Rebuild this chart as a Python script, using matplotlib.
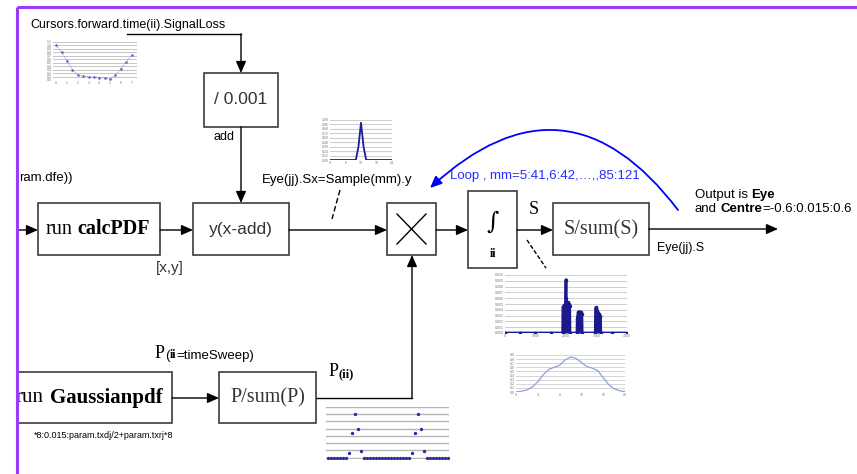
import numpy as np
import matplotlib
matplotlib.use("Agg")
import matplotlib.pyplot as plt
from matplotlib.patches import Rectangle, FancyArrowPatch

plt.rcParams['font.family'] = ['Liberation Sans', 'DejaVu Sans']

W, H = 857, 474
SANS = 'Liberation Sans'
SERIF = 'Liberation Serif'
EDGE = '#3c3c3c'

# thumbnail 1 : signal loss vs cursor position
loss_x = [0, 0.5, 1, 1.5, 2, 2.5, 3, 3.5, 4, 4.5, 5, 5.5, 6, 6.5, 7]
loss_y = [1.0, 0.8, 0.55, 0.3, 0.14, 0.12, 0.1, 0.09, 0.07, 0.05, 0.02, 0.15, 0.33, 0.52, 0.72]

# thumbnail 2 : single sample pdf
samp_x = list(range(25))
samp_y = [0, 0, 0, 0, 0, 0, 0, 0, 0, 0, 0, 0.35, 1.0, 0.35, 0, 0, 0, 0, 0, 0, 0, 0, 0, 0, 0]

# thumbnail 3 : summed pdf
pdf_x = [0, 500, 1000, 1500, 1890, 1900, 1920, 1950, 1980, 2000, 2010, 2030, 2060, 2090, 2120, 2130,
         2360, 2370, 2400, 2430, 2460, 2500, 2520, 2530,
         2960, 2970, 3000, 3030, 3060, 3090, 3110, 3130, 3140, 3500, 4000]
pdf_y = [0, 0, 0, 0, 0, 0.0045, 0.0046, 0.0048, 0.005, 0.0092, 0.006, 0.0052, 0.0053, 0.005, 0.0047, 0,
         0, 0.0025, 0.0036, 0.0037, 0.0036, 0.0036, 0.0033, 0,
         0, 0.0043, 0.0044, 0.0038, 0.0035, 0.0033, 0.003, 0.0028, 0, 0, 0]

# thumbnail 4 : normalised eye
eye_x = list(range(21))
eye_y = [0, 0.02, 0.05, 0.12, 0.25, 0.42, 0.55, 0.6, 0.65, 0.78, 0.85, 0.82, 0.72, 0.62, 0.58,
         0.52, 0.35, 0.18, 0.08, 0.03, 0.01]

# thumbnail 5 : P(ii)
p_x = list(range(41))
p_y = [0] * 41
for k, v in {7: 0.03, 8: 0.17, 9: 0.30, 10: 0.20, 11: 0.045,
             28: 0.03, 29: 0.17, 30: 0.30, 31: 0.20, 32: 0.045}.items():
    p_y[k] = v

fig = plt.figure(figsize=(W / 100, H / 100), dpi=100)
ax = fig.add_axes([0, 0, 1, 1])
ax.set_xlim(0, W)
ax.set_ylim(H, 0)
ax.axis('off')


def box(x0, y0, x1, y1):
    ax.add_patch(Rectangle((x0, y0), x1 - x0, y1 - y0, fc='white', ec=EDGE, lw=1.2, zorder=2))


def arrow(p0, p1, color='k'):
    ax.annotate('', xy=p1, xytext=p0,
                arrowprops=dict(arrowstyle='-|>,head_length=0.5,head_width=0.22', color=color,
                                lw=1, mutation_scale=14, shrinkA=0, shrinkB=0), zorder=3)


def line(xs, ys, z=1, **kw):
    ax.plot(xs, ys, color='k', lw=1, zorder=z, **kw)


def rich(x, y, parts, color='k'):
    # parts: (text, size, family, weight, gap in points before it)
    s, sz, fam, wt, _ = parts[0]
    prev = ax.text(x, y, s, fontsize=sz, family=fam, weight=wt, color=color, ha='left', va='center', zorder=4)
    for s, sz, fam, wt, gap in parts[1:]:
        prev = ax.annotate(s, xy=(1, 0), xycoords=prev, xytext=(gap, 0), textcoords='offset points',
                           fontsize=sz, family=fam, weight=wt, color=color, ha='left', va='bottom', zorder=4)


def inset(x0, y0, x1, y1):
    a = fig.add_axes([x0 / W, 1 - y1 / H, (x1 - x0) / W, (y1 - y0) / H])
    a.set_facecolor('white')
    for sp in a.spines.values():
        sp.set_visible(False)
    a.tick_params(labelsize=2.5, length=0, pad=1, colors='#777777')
    return a


# blocks
box(204, 73, 278, 127)
box(38, 203, 160, 255)
box(193, 203, 289, 255)
box(387, 203, 436, 255)
box(468, 191, 517, 268)
box(553, 203, 649, 255)
box(8, 372, 172, 423)
box(219, 372, 316, 423)

# connections
line([127, 241], [34, 34])
arrow((241, 34), (241, 73))
arrow((241, 127), (241, 203))
arrow((10, 230), (38, 230))
arrow((160, 230), (193, 230))
arrow((289, 230), (387, 230))
arrow((436, 230), (468, 230))
arrow((517, 230), (553, 230))
arrow((649, 229), (778, 229))
arrow((172, 398), (219, 398))
line([316, 412], [398, 398])
arrow((412, 398), (412, 255))

# multiply cross
line([397, 426], [214, 244], z=3)
line([397, 426], [244, 214], z=3)

# dashed pointers
line([340, 332], [190, 219], ls=(0, (4, 2)))
line([527, 546], [240, 268], ls=(0, (3, 1.5)))

# loop arc
ax.add_patch(FancyArrowPatch((678, 210), (430, 188), connectionstyle='arc3,rad=0.55',
                             arrowstyle='-|>,head_length=0.5,head_width=0.22', mutation_scale=14,
                             color='#0000ff', lw=1.3, shrinkA=0, shrinkB=0, zorder=3))

# texts
ax.text(30, 25, 'Cursors.forward.time(ii).SignalLoss', fontsize=9, family=SANS, va='center')
ax.text(241, 99, '/ 0.001', fontsize=12.5, family=SANS, ha='center', va='center', color='#333333')
ax.text(214, 137, 'add', fontsize=9, family=SANS, va='center')
ax.text(19, 178, 'ram.dfe))', fontsize=9.5, family=SANS, ha='left', va='center')
rich(46, 229, [('run', 14.5, SERIF, 'normal', 0), ('calcPDF', 14.5, SERIF, 'bold', 3.5)])
ax.text(241, 229, 'y(x-add)', fontsize=12.5, family=SANS, ha='center', va='center', color='#333333')
ax.text(156, 268, '[x,y]', fontsize=11, family=SANS, va='center', color='#333333')
ax.text(262, 180, 'Eye(jj).Sx=Sample(mm).y', fontsize=9.5, family=SANS, va='center')
ax.text(450, 176, 'Loop , mm=5:41,6:42,…,,85:121', fontsize=9.5, family=SANS, va='center', color='#2a2aff')
ax.text(493, 222, '∫', fontsize=17, family='DejaVu Serif', ha='center', va='center')
ax.text(493, 254, 'ii', fontsize=8.5, family=SERIF, weight='bold', ha='center', va='center')
ax.text(534, 210, 'S', fontsize=13, family=SERIF, ha='center', va='center')
ax.text(601, 230, 'S/sum(S)', fontsize=14.5, family=SERIF, ha='center', va='center', color='#333333')
ax.text(657, 248, 'Eye(jj).S', fontsize=9, family=SANS, va='center')
rich(695, 195, [('Output is', 9.5, SANS, 'normal', 0), ('Eye', 9.5, SANS, 'bold', 2.6)])
rich(695, 209, [('and', 9.5, SANS, 'normal', 0), ('Centre', 9.5, SANS, 'bold', 2.6),
                ('=-0.6:0.015:0.6', 9.5, SANS, 'normal', 0)])
rich(155, 353, [('P', 13, SERIF, 'normal', 0), ('(', 9.5, SANS, 'normal', 0),
                ('ii', 8.5, SERIF, 'bold', 0), ('=timeSweep)', 9.5, SANS, 'normal', 0)])
rich(329, 372, [('P', 13, SERIF, 'normal', 0), ('(ii)', 9, SERIF, 'bold', 0)])
ax.text(44, 398, 'run', fontsize=15, family=SERIF, ha='right', va='center')
ax.text(50, 398, 'Gaussianpdf', fontsize=15, family=SERIF, weight='bold', ha='left', va='center')
ax.text(268, 398, 'P/sum(P)', fontsize=14.5, family=SERIF, ha='center', va='center', color='#333333')
ax.text(173, 435, '*8:0.015:param.txdj/2+param.txrj*8', fontsize=6.5, family=SANS, ha='right', va='center')

# left cover and purple frame
ax.add_patch(Rectangle((0, 0), 17, H, fc='white', ec='none', zorder=20))
ax.plot([17, 17], [7, H], color='#9a3cf5', lw=2.2, zorder=21, solid_capstyle='butt')
ax.plot([17, W], [7, 7], color='#9a3cf5', lw=2.2, zorder=21, solid_capstyle='butt')

# thumbnail 1
a1 = inset(53, 42, 137, 80)
a1.plot(loss_x, loss_y, color='#5a5ab8', lw=0.6, ls=':', marker='o', ms=0.8)
a1.set_xlim(-0.3, 7.5)
a1.set_ylim(0, 1.1)
a1.set_yticks(np.arange(0, 1.11, 0.1))
a1.set_xticks(range(8))
a1.grid(axis='y', color='#bdbdbd', lw=0.6)
a1.set_axisbelow(True)

# thumbnail 2
a2 = inset(330, 119, 392, 160)
a2.plot(samp_x, samp_y, color='#1c1c9c', lw=1.3)
a2.set_xlim(0, 24)
a2.set_ylim(0, 1.1)
a2.set_yticks(np.arange(0, 1.11, 0.12))
a2.set_xticks([0, 6, 12, 18, 24])
a2.grid(axis='y', color='#cfcfcf', lw=0.8)
a2.set_axisbelow(True)

# thumbnail 3
a3 = inset(505, 275, 627, 333)
a3.fill_between(pdf_x, pdf_y, color='#1a1a8c', lw=0)
a3.plot(pdf_x, pdf_y, color='#1a1a8c', lw=2, marker='o', ms=1.5)
a3.set_xlim(0, 4000)
a3.set_ylim(0, 0.01)
a3.set_yticks(np.arange(0, 0.0101, 0.001))
a3.set_xticks([0, 1000, 2000, 3000, 4000])
a3.grid(axis='y', color='#c8c8c8', lw=0.6)
a3.set_axisbelow(True)

# thumbnail 4
a4 = inset(516, 355, 625, 392)
a4.plot(eye_x, eye_y, color='#8ea0d8', lw=0.9)
a4.set_xlim(0, 20)
a4.set_ylim(0, 0.9)
a4.set_yticks(np.arange(0, 0.91, 0.1))
a4.set_xticks([0, 4, 8, 12, 16, 20])
a4.grid(axis='y', color='#cfcfcf', lw=0.6)
a4.set_axisbelow(True)

# thumbnail 5
a5 = inset(326, 407, 449, 459)
a5.plot(p_x, p_y, ls='none', marker='o', ms=1.4, color='#2c2c9c')
a5.set_xlim(-0.5, 40.5)
a5.set_ylim(-0.01, 0.35)
a5.set_yticks(np.arange(0, 0.351, 0.05))
a5.set_xticks([])
a5.set_yticklabels([])
a5.grid(axis='y', color='#b5b5b5', lw=1.0)
a5.set_axisbelow(True)

fig.savefig('out.png', dpi=100)
